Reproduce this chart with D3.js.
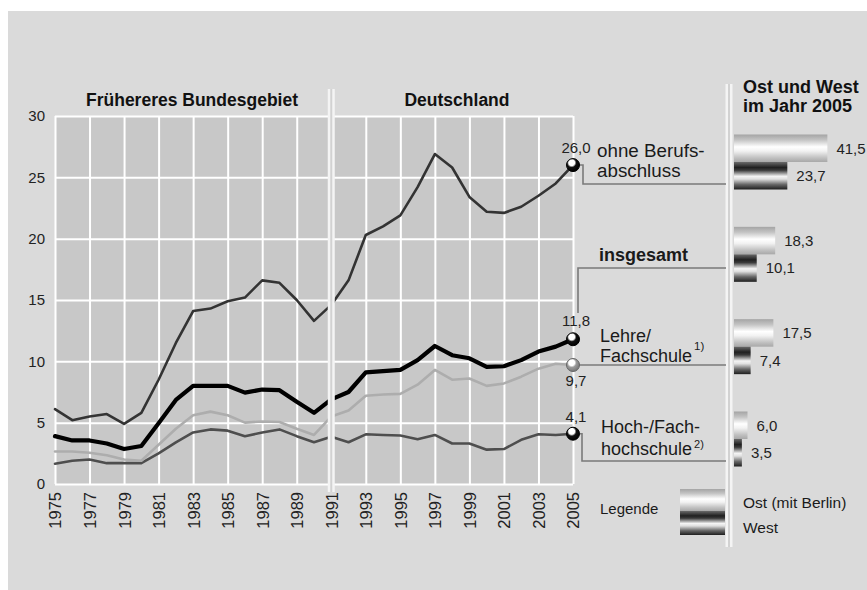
<!DOCTYPE html>
<html><head><meta charset="utf-8">
<script src="https://cdn.jsdelivr.net/npm/d3@7"></script>
<style>
html,body{margin:0;padding:0;background:#fff;}
svg{display:block;font-family:"Liberation Sans",Arial,Helvetica,sans-serif;}
</style></head>
<body>
<svg id="chart" width="867" height="590"></svg>
<script>
// ---------- data ----------
const years = [1975,1976,1977,1978,1979,1980,1981,1982,1983,1984,1985,1986,1987,1988,1989,1990,
               1991,1992,1993,1994,1995,1996,1997,1998,1999,2000,2001,2002,2003,2004,2005];
const ohneBerufsabschluss = [6.1,5.2,5.5,5.7,4.9,5.8,8.5,11.5,14.1,14.3,14.9,15.2,16.6,16.4,15.0,13.3,
                             14.6,16.6,20.3,21.0,21.9,24.2,26.9,25.8,23.4,22.2,22.1,22.6,23.5,24.5,26.0];
const insgesamt = [3.9,3.55,3.55,3.3,2.85,3.1,4.95,6.85,8.0,8.0,8.0,7.45,7.7,7.65,6.7,5.8,
                   6.9,7.5,9.1,9.2,9.3,10.1,11.25,10.5,10.25,9.55,9.6,10.1,10.8,11.2,11.8];
const lehreFachschule = [2.65,2.65,2.55,2.35,2.0,1.9,3.2,4.5,5.6,5.9,5.6,5.0,5.1,5.05,4.5,4.0,
                         5.5,6.0,7.2,7.3,7.35,8.1,9.3,8.5,8.6,8.0,8.2,8.75,9.4,9.8,9.7];
const hochschule = [1.65,1.9,2.0,1.7,1.7,1.7,2.5,3.4,4.2,4.45,4.35,3.9,4.2,4.45,3.9,3.4,
                    3.85,3.4,4.05,4.0,3.95,3.65,4.0,3.3,3.3,2.8,2.85,3.6,4.05,4.0,4.1];
const yTicks = [0,5,10,15,20,25,30];
const xTicks = [1975,1977,1979,1981,1983,1985,1987,1989,1991,1993,1995,1997,1999,2001,2003,2005];
const endLabels = ["26,0","11,8","9,7","4,1"];

const barCategories = ["ohne Berufsabschluss","insgesamt","Lehre/Fachschule","Hoch-/Fachhochschule"];
const ost2005 = [41.5,18.3,17.5,6.0];
const west2005 = [23.7,10.1,7.4,3.5];
const barLabelsOst = ["41,5","18,3","17,5","6,0"];
const barLabelsWest = ["23,7","10,1","7,4","3,5"];

// ---------- setup ----------
const svg = d3.select("#chart");
const defs = svg.append("defs");

svg.append("rect").attr("x",8).attr("y",11).attr("width",859).attr("height",579).attr("fill","#dadada");

const x = d3.scaleLinear().domain([1975,2005]).range([55,573]);
const y = d3.scaleLinear().domain([0,30]).range([484,116]);

// plot area
svg.append("rect").attr("x",x(1975)).attr("y",y(30)).attr("width",x(2005)-x(1975)).attr("height",y(0)-y(30)).attr("fill","#c8c8c8");

// gridlines
const gx = svg.append("g").attr("transform",`translate(0,${y(0)})`)
  .call(d3.axisBottom(x).tickValues(xTicks).tickSize(-(y(0)-y(30))).tickFormat(""));
gx.select(".domain").remove();
gx.selectAll("line").attr("stroke","#fff").attr("stroke-width",2);
const gy = svg.append("g").attr("transform",`translate(${x(1975)},0)`)
  .call(d3.axisLeft(y).tickValues(yTicks).tickSize(-(x(2005)-x(1975))).tickFormat(""));
gy.select(".domain").remove();
gy.selectAll("line").attr("stroke","#fff").attr("stroke-width",2);

// axis labels
const ay = svg.append("g").attr("transform",`translate(${x(1975)},0)`)
  .call(d3.axisLeft(y).tickValues(yTicks).tickSize(0).tickPadding(10).tickFormat(d=>d));
ay.select(".domain").remove();
ay.selectAll("text").attr("font-size",15).attr("fill","#222").attr("font-family","Liberation Sans, Arial, sans-serif");

const ax = svg.append("g").attr("transform",`translate(0,${y(0)})`)
  .call(d3.axisBottom(x).tickValues(xTicks).tickSize(0).tickFormat(d=>String(d)));
ax.select(".domain").remove();
ax.selectAll("text").attr("font-size",16.5).attr("fill","#222").attr("font-family","Liberation Sans, Arial, sans-serif")
  .attr("transform","rotate(-90)").attr("text-anchor","end").attr("x",-8).attr("y",0).attr("dy","0.36em");

// lines
const series = [
  {v: hochschule, c:"#4e4e4e", w:2.6},
  {v: lehreFachschule, c:"#adadad", w:2.6},
  {v: ohneBerufsabschluss, c:"#333", w:2.6},
  {v: insgesamt, c:"#000", w:4.2}
];
const line = d3.line().x((d,i)=>x(years[i])).y(d=>y(d));
series.forEach(s=>{
  svg.append("path").attr("d",line(s.v)).attr("fill","none").attr("stroke",s.c)
    .attr("stroke-width",s.w).attr("stroke-linejoin","round").attr("stroke-linecap","round");
});

// separators
function separator(xp, y1, y2){
  svg.append("rect").attr("x",xp-3.5).attr("y",y1).attr("width",7).attr("height",y2-y1).attr("fill","#f4f4f4");
  svg.append("rect").attr("x",xp-1).attr("y",y1).attr("width",2).attr("height",y2-y1).attr("fill","#d2d2d2");
}
separator(x(1991), 89, 492);
separator(729, 84, 547);

// titles
svg.append("text").attr("x",192).attr("y",106).attr("text-anchor","middle").attr("font-weight","bold")
  .attr("font-size",17.5).attr("fill","#111").text("Frühereres Bundesgebiet");
svg.append("text").attr("x",457).attr("y",106).attr("text-anchor","middle").attr("font-weight","bold")
  .attr("font-size",17.5).attr("fill","#111").text("Deutschland");
svg.append("text").attr("x",743).attr("y",93).attr("font-weight","bold").attr("font-size",18)
  .attr("fill","#111").text("Ost und West");
svg.append("text").attr("x",743).attr("y",112).attr("font-weight","bold").attr("font-size",18)
  .attr("fill","#111").text("im Jahr 2005");

// connectors
const conn = "#7a7a7a";
function pl(pts){
  svg.append("path").attr("d",d3.line()(pts)).attr("fill","none").attr("stroke",conn).attr("stroke-width",1.6);
}
const xe = x(2005);
pl([[xe,y(26.0)],[583,y(26.0)],[583,184],[726,184]]);
pl([[578,313],[578,268],[726,268]]);
pl([[xe,y(9.7)],[726,y(9.7)]]);
pl([[xe,y(4.1)],[582,y(4.1)],[582,461],[726,461]]);

// markers
function radial(id, c0, c1){
  const g = defs.append("radialGradient").attr("id",id).attr("cx","0.4").attr("cy","0.35").attr("r","0.65").attr("fx","0.4").attr("fy","0.3");
  g.append("stop").attr("offset","0").attr("stop-color","#fff");
  g.append("stop").attr("offset","0.35").attr("stop-color","#fff");
  g.append("stop").attr("offset","0.55").attr("stop-color",c0);
  g.append("stop").attr("offset","1").attr("stop-color",c1);
}
radial("mDark","#111","#000");
radial("mGray","#9a9a9a","#777");
const endVals = [ohneBerufsabschluss, insgesamt, lehreFachschule, hochschule].map(a=>a[a.length-1]);
const markerFill = ["url(#mDark)","url(#mDark)","url(#mGray)","url(#mDark)"];
const labelDy = [-12,-13,21,-12];
endVals.forEach((v,i)=>{
  svg.append("circle").attr("cx",xe).attr("cy",y(v)).attr("r",6.5).attr("fill",markerFill[i])
    .attr("stroke", i===2?"#666":"#000").attr("stroke-width",1);
  svg.append("text").attr("x",xe+3).attr("y",y(v)+labelDy[i]).attr("text-anchor","middle")
    .attr("font-size",15).attr("fill","#222").text(endLabels[i]);
});

// right labels
function txt(xp, yp, t, opts={}){
  const e = svg.append("text").attr("x",xp).attr("y",yp).attr("font-size",opts.size||18)
    .attr("fill","#1a1a1a").text(t);
  if(opts.bold) e.attr("font-weight","bold");
  return e;
}
txt(597,157,"ohne Berufs-",{size:18.8});
txt(597,177,"abschluss",{size:18.8});
txt(599,261,"insgesamt",{bold:true});
txt(600,342,"Lehre/");
const fs = txt(600,362,"Fachschule");
txt(600 + fs.node().getComputedTextLength() + 2, 350,"1)",{size:11.5});
txt(601,433,"Hoch-/Fach-");
const hs = txt(601,455,"hochschule");
txt(601 + hs.node().getComputedTextLength() + 2, 448,"2)",{size:11});

// bar gradients
function lin(id, stops){
  const g = defs.append("linearGradient").attr("id",id).attr("x1",0).attr("y1",0).attr("x2",0).attr("y2",1);
  stops.forEach(s=>g.append("stop").attr("offset",s[0]).attr("stop-color",s[1]));
}
lin("gOst",[[0,"#a4a4a4"],[0.2,"#c4c4c4"],[0.45,"#ffffff"],[0.6,"#f2f2f2"],[0.85,"#c0c0c0"],[1,"#a8a8a8"]]);
lin("gWest",[[0,"#6a6a6a"],[0.2,"#202020"],[0.3,"#3a3a3a"],[0.52,"#f4f4f4"],[0.62,"#e0e0e0"],[0.82,"#666"],[1,"#1e1e1e"]]);

const bx = d3.scaleLinear().domain([0,40]).range([734,824]);
const by = d3.scalePoint().domain(barCategories).range([162,439]);
const bh = 27.5;
const bg = svg.append("g");
bg.selectAll("rect.ost").data(ost2005).join("rect").attr("class","ost")
  .attr("x",bx(0)).attr("y",(d,i)=>by(barCategories[i])-bh).attr("width",d=>bx(d)-bx(0)).attr("height",bh)
  .attr("fill","url(#gOst)");
bg.selectAll("rect.west").data(west2005).join("rect").attr("class","west")
  .attr("x",bx(0)).attr("y",(d,i)=>by(barCategories[i])).attr("width",d=>bx(d)-bx(0)).attr("height",bh)
  .attr("fill","url(#gWest)");
bg.selectAll("text.ost").data(ost2005).join("text").attr("class","ost")
  .attr("x",d=>bx(d)+9).attr("y",(d,i)=>by(barCategories[i])-bh/2).attr("dy","0.36em")
  .attr("font-size",15).attr("fill","#222").text((d,i)=>barLabelsOst[i]);
bg.selectAll("text.west").data(west2005).join("text").attr("class","west")
  .attr("x",d=>bx(d)+9).attr("y",(d,i)=>by(barCategories[i])+bh/2).attr("dy","0.36em")
  .attr("font-size",15).attr("fill","#222").text((d,i)=>barLabelsWest[i]);

// legend
txt(600,514,"Legende",{size:15});
svg.append("rect").attr("x",680).attr("y",489).attr("width",45).attr("height",22).attr("fill","url(#gOst)");
svg.append("rect").attr("x",680).attr("y",511).attr("width",45).attr("height",24).attr("fill","url(#gWest)");
txt(743,508,"Ost (mit Berlin)",{size:15.5});
txt(743,533,"West",{size:15.5});
</script>
</body></html>
